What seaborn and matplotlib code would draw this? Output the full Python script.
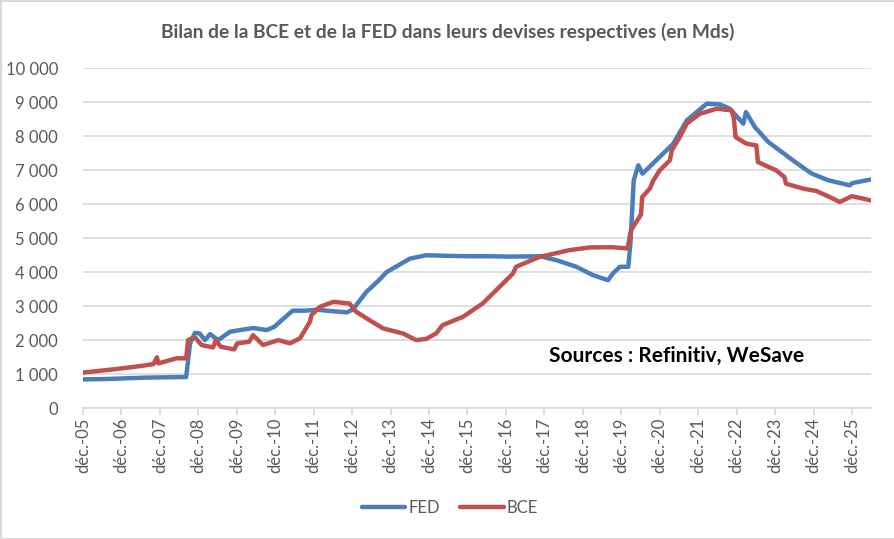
import pandas as pd
import seaborn as sns
import matplotlib.pyplot as plt

# données (années décimales, Mds)
fed_t = [2005.92, 2006.5, 2007.0, 2007.5, 2008.0, 2008.6, 2008.7, 2008.83, 2008.95,
         2009.09, 2009.22, 2009.43, 2009.74, 2010.0, 2010.34, 2010.7, 2010.9, 2011.04,
         2011.37, 2011.7, 2012.0, 2012.35, 2012.78, 2012.94, 2013.29, 2013.6, 2013.82,
         2014.42, 2014.84, 2015.5, 2016.0, 2016.5, 2017.0, 2017.8, 2018.23, 2018.75,
         2019.18, 2019.57, 2019.7, 2019.88, 2020.1, 2020.16, 2020.24, 2020.36, 2020.47,
         2020.91, 2021.27, 2021.62, 2022.14, 2022.48, 2022.74, 2023.09, 2023.16, 2023.39,
         2023.74, 2024.09, 2024.44, 2024.87, 2025.3, 2025.86, 2025.92, 2026.1, 2026.39]
fed_v = [850, 860, 880, 900, 910, 920, 1900, 2220, 2200,
         2005, 2180, 2005, 2250, 2300, 2360, 2300, 2400, 2545,
         2870, 2870, 2900, 2860, 2820, 2910, 3425, 3750, 4010,
         4400, 4500, 4480, 4470, 4470, 4460, 4470, 4355, 4160,
         3915, 3765, 3965, 4160, 4160, 4940, 6700, 7145, 6900,
         7385, 7780, 8465, 8955, 8935, 8810, 8370, 8710, 8270,
         7830, 7535, 7240, 6900, 6705, 6555, 6620, 6660, 6725]

bce_t = [2005.92, 2006.71, 2007.4, 2007.75, 2007.84, 2007.88, 2008.35, 2008.6, 2008.65,
         2008.83, 2009.0, 2009.3, 2009.37, 2009.5, 2009.85, 2009.93, 2010.24, 2010.34,
         2010.6, 2011.0, 2011.3, 2011.56, 2011.82, 2011.86, 2012.08, 2012.43, 2012.85,
         2013.02, 2013.37, 2013.72, 2014.24, 2014.58, 2014.84, 2015.1, 2015.27, 2015.8,
         2016.31, 2016.75, 2017.1, 2017.18, 2017.79, 2018.57, 2019.1, 2019.68, 2020.08,
         2020.17, 2020.43, 2020.46, 2020.66, 2020.75, 2020.92, 2021.18, 2021.23, 2021.44,
         2021.62, 2021.96, 2022.4, 2022.78, 2022.84, 2022.89, 2023.17, 2023.43, 2023.47,
         2023.94, 2024.16, 2024.2, 2024.64, 2024.99, 2025.34, 2025.6, 2025.91, 2026.21, 2026.39]
bce_v = [1050, 1145, 1240, 1300, 1500, 1320, 1470, 1470, 2005,
         2085, 1860, 1790, 2005, 1810, 1730, 1910, 1955, 2150,
         1860, 2005, 1910, 2055, 2545, 2740, 2985, 3130, 3080,
         2840, 2590, 2350, 2200, 2005, 2040, 2200, 2445, 2690,
         3080, 3570, 3960, 4160, 4450, 4650, 4730, 4735, 4700,
         5235, 5700, 6210, 6460, 6700, 7000, 7290, 7585, 7975,
         8370, 8660, 8810, 8760, 8560, 7975, 7780, 7730, 7240,
         7000, 6800, 6605, 6460, 6390, 6210, 6065, 6235, 6165, 6115]

data = pd.concat([
    pd.DataFrame({'date': fed_t, 'valeur': fed_v, 'serie': 'FED'}),
    pd.DataFrame({'date': bce_t, 'valeur': bce_v, 'serie': 'BCE'}),
])

sns.set_theme(style='white')
plt.rcParams['font.family'] = ['Lato', 'DejaVu Sans']

fig = plt.figure(figsize=(8.95, 5.39), dpi=100)
fig.patch.set_edgecolor('#d9d9d9')
fig.patch.set_linewidth(2)
ax = fig.add_axes([0.0927, 0.2425, 0.880, 0.631])

sns.lineplot(x='date', y='valeur', hue='serie', data=data, ax=ax,
             palette={'FED': '#4a7ebb', 'BCE': '#c0504d'}, linewidth=3.2,
             estimator=None, sort=False)

ax.set_xlim(2005.917, 2026.4)
ax.set_ylim(0, 10000)
ax.set_yticks(range(0, 10001, 1000))
ax.set_yticklabels([f'{v:,}'.replace(',', ' ') for v in range(0, 10001, 1000)])
ticks = [2005 + 11 / 12 + k for k in range(21)]
ax.set_xticks(ticks)
ax.set_xticklabels([f'déc.-{(5 + k) % 100:02d}' for k in range(21)], rotation=90)
ax.grid(axis='y', color='#d9d9d9', linewidth=1.2)
ax.set_axisbelow(True)
for s in ['left', 'right', 'top']:
    ax.spines[s].set_visible(False)
ax.spines['bottom'].set_color('#d9d9d9')
ax.spines['bottom'].set_linewidth(1.2)
ax.tick_params(axis='x', bottom=True, length=5, color='#d9d9d9', width=1.2,
               labelsize=12, labelcolor='#595959', pad=2)
ax.tick_params(axis='y', left=False, labelsize=12, labelcolor='#595959', pad=12)
ax.set_xlabel('')
ax.set_ylabel('')

fig.text(0.5, 0.94, 'Bilan de la BCE et de la FED dans leurs devises respectives (en Mds)',
         ha='center', va='center', fontsize=13.8, fontweight='bold', color='#595959')
ax.text(0.754, 0.154, 'Sources : Refinitiv, WeSave', transform=ax.transAxes,
        ha='center', va='center', fontsize=15, fontweight='bold', color='black')

ax.legend(loc='center', bbox_to_anchor=(0.503, 0.057), bbox_transform=fig.transFigure,
          ncol=2, frameon=False, fontsize=12, handlelength=2.6, columnspacing=1.2,
          handletextpad=0.2, labelcolor='#595959')

fig.savefig('out.png', dpi=100)
